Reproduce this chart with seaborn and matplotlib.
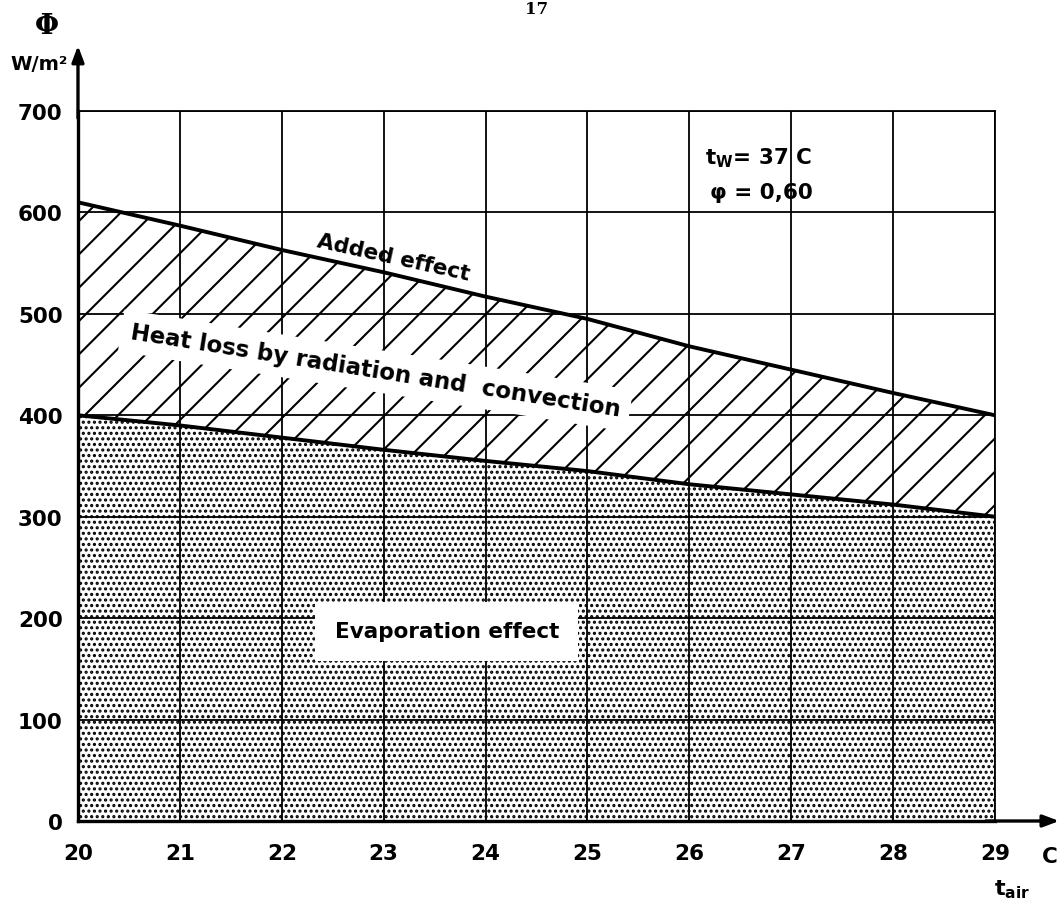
import matplotlib
matplotlib.use("Agg")
import matplotlib.pyplot as plt
import seaborn as sns
import numpy as np
import pandas as pd

# ---- data ----
t_air = [20, 21, 22, 23, 24, 25, 26, 27, 28, 29]
total_heat_loss = [610, 587, 563, 541, 517, 495, 468, 445, 422, 400]   # upper curve ("Added effect")
evaporation = [400, 390, 378, 366, 355, 345, 332, 322, 312, 300]        # lower curve
x_ticks = [20, 21, 22, 23, 24, 25, 26, 27, 28, 29]
y_ticks = [0, 100, 200, 300, 400, 500, 600, 700]

df = pd.DataFrame({"t_air": t_air, "upper": total_heat_loss, "lower": evaporation})

sns.set_theme(style="white")
plt.rcParams["font.family"] = ["DejaVu Sans"]
plt.rcParams["text.color"] = "black"
plt.rcParams["xtick.color"] = "black"
plt.rcParams["ytick.color"] = "black"
plt.rcParams["xtick.labelcolor"] = "black"
plt.rcParams["ytick.labelcolor"] = "black"
plt.rcParams["hatch.linewidth"] = 1.5
plt.rcParams["hatch.color"] = "black"

fig = plt.figure(figsize=(10.61, 9.04), dpi=100)
ax = fig.add_axes([0.0735, 0.0907, 0.8643, 0.7854])

# filled regions
ax.fill_between(df["t_air"], 0, df["lower"], facecolor="white", edgecolor="black",
                hatch="...", linewidth=0, zorder=0.5)
ax.fill_between(df["t_air"], df["lower"], df["upper"], facecolor="white", edgecolor="black",
                hatch="/", linewidth=0, zorder=0.5)

# curves
sns.lineplot(data=df, x="t_air", y="upper", color="black", linewidth=2.8, ax=ax, zorder=4)
sns.lineplot(data=df, x="t_air", y="lower", color="black", linewidth=2.8, ax=ax, zorder=4)

ax.set_xlim(20, 29)
ax.set_ylim(0, 700)
ax.set_xticks(x_ticks)
ax.set_yticks(y_ticks)
ax.set_xticklabels([str(v) for v in x_ticks], fontsize=15.5, fontweight="bold")
ax.set_yticklabels([str(v) for v in y_ticks], fontsize=15.5, fontweight="bold")
ax.tick_params(axis="both", length=0, colors="black")
ax.tick_params(axis="x", pad=16)
ax.tick_params(axis="y", pad=11)
ax.set_xlabel("")
ax.set_ylabel("")

ax.grid(True, color="black", linewidth=1.3)
ax.set_axisbelow(False)

for side in ["top", "right"]:
    ax.spines[side].set_color("black")
    ax.spines[side].set_linewidth(1.3)
for side in ["left", "bottom"]:
    ax.spines[side].set_color("black")
    ax.spines[side].set_linewidth(2.4)
    ax.spines[side].set_zorder(5)

# axis arrows
ax.annotate("", xy=(0, 1.092), xytext=(0, 0.99), xycoords="axes fraction",
            arrowprops=dict(arrowstyle="-|>,head_length=0.8,head_width=0.3",
                            color="black", lw=2.4, shrinkA=0, shrinkB=0),
            annotation_clip=False)
ax.annotate("", xy=(1.070, 0), xytext=(0.99, 0), xycoords="axes fraction",
            arrowprops=dict(arrowstyle="-|>,head_length=0.8,head_width=0.3",
                            color="black", lw=2.4, shrinkA=0, shrinkB=0),
            annotation_clip=False)

# labels in the chart
ax.text(23.1, 556, "Added effect", rotation=-12.5, ha="center", va="center",
        fontsize=15.5, fontweight="bold", zorder=6)
ax.text(22.92, 444, "Heat loss by radiation and  convection", rotation=-9,
        ha="center", va="center", fontsize=16.5, fontweight="bold", zorder=6,
        bbox=dict(facecolor="white", edgecolor="none", pad=7))
ax.text(23.62, 187, "Evaporation effect", ha="center", va="center",
        fontsize=15.5, fontweight="bold", zorder=6,
        bbox=dict(facecolor="white", edgecolor="none", pad=14))
ax.text(26.15, 654, r"$\mathregular{t_W}$= 37 C", ha="left", va="center",
        fontsize=15.5, fontweight="bold", zorder=6)
ax.text(26.2, 620, "φ = 0,60", ha="left", va="center",
        fontsize=15.5, fontweight="bold", zorder=6)

# axis titles
fig.text(47 / 1061, 1 - 27 / 904, "Φ", family="DejaVu Serif", fontweight="bold",
         fontsize=20, ha="center", va="center")
fig.text(39 / 1061, 1 - 65 / 904, "W/m²", fontsize=14, fontweight="bold",
         ha="center", va="center")
fig.text(1058 / 1061, 1 - 857 / 904, "C", fontsize=15.5, fontweight="bold",
         ha="right", va="center")
fig.text(1012 / 1061, 1 - 890 / 904, r"$\mathregular{t_{air}}$", fontsize=16,
         fontweight="bold", ha="center", va="center")

# page number at the top of the scanned page
fig.text(537 / 1061, 1 - 1 / 904, "17", family="DejaVu Serif", fontweight="bold",
         fontsize=12, ha="center", va="top")

fig.savefig("out.png", dpi=100)
